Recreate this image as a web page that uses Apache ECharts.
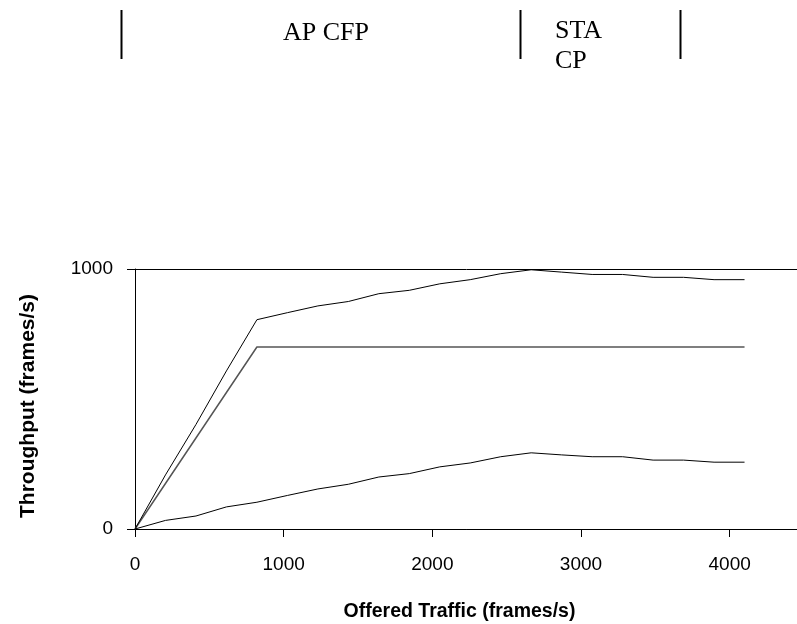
<!DOCTYPE html>
<html>
<head>
<meta charset="utf-8">
<script src="https://cdn.jsdelivr.net/npm/echarts@6/dist/echarts.min.js"></script>
<style>html,body{margin:0;padding:0;background:#fff;}#c{width:797px;height:624px;}</style>
</head>
<body>
<div id="c"></div>
<script>
const offeredTraffic = [0,205,410,615,820,1025,1230,1435,1640,1845,2050,2255,2460,2665,2870,3075,3280,3485,3690,3895,4100];
const totalThroughput = [0,208,402,608,805,832,858,875,905,918,943,959,982,997,988,979,979,968,968,959,959];
const apThroughput = [0,175,350,525,700,700,700,700,700,700,700,700,700,700,700,700,700,700,700,700,700];
const staThroughput = [0,33,50,85,103,129,154,172,200,213,239,254,278,293,285,278,278,265,265,257,257];
const xTicks = [0,1000,2000,3000,4000];
const yTicks = [0,1000];

function pairs(ys){ return offeredTraffic.map((x,i)=>[x, ys[i]]); }

const chart = echarts.init(document.getElementById('c'), null, {renderer:'canvas'});
const lineStyleBase = {color:'#000', width:1};
chart.setOption({
  animation:false,
  backgroundColor:'#fff',
  grid:{left:135, width:669, top:269, bottom:95, containLabel:false, outerBoundsMode:'none'},
  xAxis:{
    type:'value', min:0, max:4500, interval:1000,
    axisLine:{show:true, lineStyle:{color:'#000', width:1}},
    axisTick:{show:true, length:8, lineStyle:{color:'#000'}},
    splitLine:{show:false},
    axisLabel:{color:'#000', fontFamily:'Liberation Sans, Arial', fontSize:19, margin:26,
      formatter:v=> xTicks.includes(v) ? String(v) : ''},
    name:'Offered Traffic (frames/s)', nameLocation:'middle', nameGap:73,
    nameTextStyle:{color:'#000', fontFamily:'Liberation Sans, Arial', fontWeight:'bold', fontSize:19.5, padding:[0,20,0,0]}
  },
  yAxis:{
    type:'value', min:0, max:1000, interval:1000,
    axisLine:{show:true, lineStyle:{color:'#000', width:1}},
    axisTick:{show:true, length:8, lineStyle:{color:'#000'}},
    splitLine:{show:true, lineStyle:{color:'#000', width:1}},
    axisLabel:{color:'#000', fontFamily:'Liberation Sans, Arial', fontSize:19, margin:22,
      formatter:v=> yTicks.includes(v) ? String(v) : ''},
    name:'Throughput (frames/s)', nameLocation:'middle', nameGap:96, nameRotate:90,
    nameTextStyle:{color:'#000', fontFamily:'Liberation Sans, Arial', fontWeight:'bold', fontSize:21, padding:[0,14,0,0]}
  },
  graphic:[
    {type:'line', shape:{x1:121.5,y1:10,x2:121.5,y2:59}, style:{stroke:'#000', lineWidth:2}},
    {type:'line', shape:{x1:520.5,y1:10,x2:520.5,y2:59}, style:{stroke:'#000', lineWidth:2}},
    {type:'line', shape:{x1:680.5,y1:10,x2:680.5,y2:59}, style:{stroke:'#000', lineWidth:2}},
    {type:'text', left:283, top:20, style:{text:'AP CFP', fill:'#000', font:'26px "Liberation Serif", "Times New Roman", serif'}},
    {type:'text', left:555, top:16, style:{text:'STA\nCP', fill:'#000', lineHeight:30, font:'26px "Liberation Serif", "Times New Roman", serif'}}
  ],
  series:[
    {type:'line', name:'Total', data:pairs(totalThroughput), symbol:'none', lineStyle:lineStyleBase, z:3},
    {type:'line', name:'AP', data:pairs(apThroughput), symbol:'none', lineStyle:{color:'#555', width:1.5}, z:2},
    {type:'line', name:'STA', data:pairs(staThroughput), symbol:'none', lineStyle:lineStyleBase, z:3}
  ]
});
</script>
</body>
</html>
